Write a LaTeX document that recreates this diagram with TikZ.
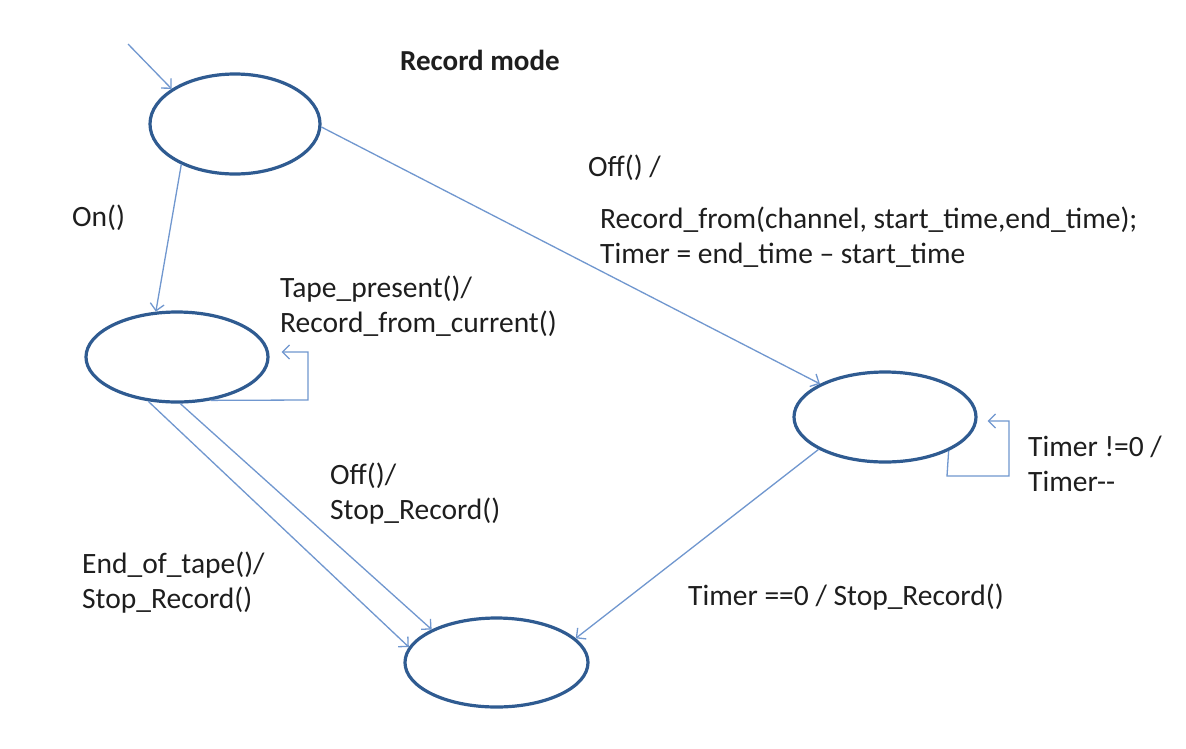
\documentclass[tikz,border=0pt]{standalone}
\usepackage{fontspec}
\setmainfont{Carlito}
\usetikzlibrary{shapes.geometric,arrows.meta,calc}
\definecolor{stateblue}{HTML}{2F5B91}
\definecolor{arrowblue}{HTML}{7097CF}
\definecolor{txt}{HTML}{1E1E1E}
\begin{document}
\begin{tikzpicture}[x=1pt,y=-1pt,
  state/.style={ellipse,draw=stateblue,line width=3.2pt,inner sep=0pt,minimum width=182,minimum height=90},
  arr/.style={draw=arrowblue,line width=1.3pt,-{Straight Barb[length=7,width=14]}},
  lbl/.style={anchor=west,inner sep=0pt,text=txt,font=\fontsize{29.5}{35}\selectfont,align=left}]
\useasboundingbox (0,0) rectangle (1186,748);
\fill[white] (0,0) rectangle (1186,748);
% states
\node[state,minimum width=170,minimum height=100] (s1) at (235,124) {};
\node[state] (s2) at (177,357) {};
\node[state] (s3) at (885,417) {};
\node[state,minimum width=183,minimum height=89] (s4) at (496.5,662.5) {};
\coordinate (init) at (128,44);
% connectors
\draw[arr] (init) -- (s1.151);
\draw[arr] (s1.-143) -- (s2.115);
\draw[arr] (s1.-2) -- (s3.153);
\draw[arr] (s2.-52) -- (308,400) -- (308,352) -- ($(s2.east)+(12,-5)$);
\draw[arr] (s2.-123) -- (s4.170);
\draw[arr] (s2.-86) -- (s4.153);
\draw[arr] (s3.-154) -- (s4.17);
\draw[arr] (s3.-28) -- (947,476) -- (1009,476) -- (1009,421) -- ($(s3.east)+(10,4)$);
% labels
\node[lbl,font=\fontsize{29}{35}\selectfont\bfseries] (title) at (400,60) {Record mode};
\node[lbl] (lon) at (72,218) {On()};
\node[lbl] (loff1) at (588,168) {Off() /};
\node[lbl] (lrec) at (600,237.5) {Record\_from(channel, start\_time,end\_time);\\Timer = end\_time -- start\_time};
\node[lbl] (ltape) at (280,306.5) {Tape\_present()/\\Record\_from\_current()};
\node[lbl] (loff2) at (330,494) {Off()/\\Stop\_Record()};
\node[lbl] (lend) at (82,582.5) {End\_of\_tape()/\\Stop\_Record()};
\node[lbl] (ltz) at (688,597) {Timer ==0 / Stop\_Record()};
\node[lbl] (ltnz) at (1028,463.5) {Timer !=0 /\\Timer-{}-};
\end{tikzpicture}
\end{document}
